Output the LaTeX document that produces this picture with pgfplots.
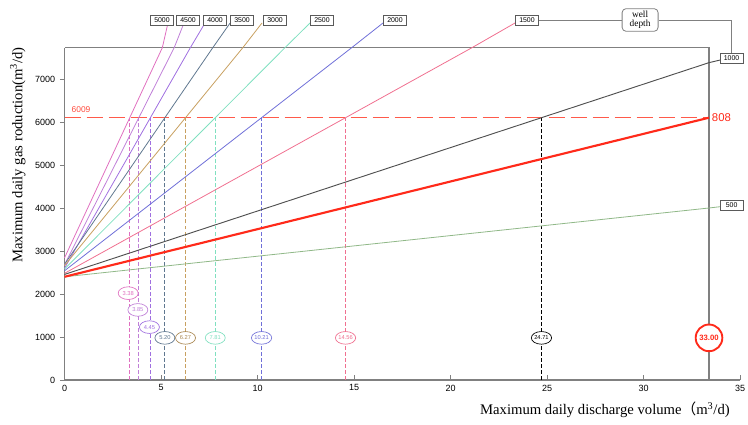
\documentclass[border=0pt]{standalone}
\usepackage{pgfplots}
\pgfplotsset{compat=1.18}
\usepackage{fontspec}
\setmainfont{Liberation Serif}
\setsansfont{Liberation Sans}
\newfontfamily\cjk{Noto Sans CJK SC}
\usetikzlibrary{shapes.geometric}
\definecolor{cA}{HTML}{E070C0}% 5000
\definecolor{cB}{HTML}{C080D8}% 4500
\definecolor{cC}{HTML}{A070E0}% 4000
\definecolor{cD}{HTML}{607890}% 3500
\definecolor{cE}{HTML}{C8A060}% 3000
\definecolor{cF}{HTML}{80E0C0}% 2500
\definecolor{cG}{HTML}{7070D8}% 2000
\definecolor{cH}{HTML}{F07090}% 1500
\definecolor{cI}{HTML}{505050}% 1000
\definecolor{cJ}{HTML}{FF2A1A}% 808
\definecolor{cK}{HTML}{90B888}% 500
\definecolor{cJd}{HTML}{FF5A4A}
\definecolor{frame}{HTML}{808080}
\tikzset{
  depthlab/.style={draw=frame!70!black, fill=white, line width=0.5pt, inner sep=0.5pt,
    minimum width=17pt, minimum height=7.5pt, font=\sffamily\fontsize{5.2}{5.2}\selectfont},
  vlab/.style={ellipse, draw=#1, text=#1, fill=white, line width=0.5pt, inner sep=0pt,
    minimum width=15pt, minimum height=9.5pt, font=\sffamily\fontsize{4.3}{4.3}\selectfont},
}
% dashed vertical drawn as short solid pieces
\newcommand\vdl[2]{\pgfplotsinvokeforeach{0,...,43}{\draw[#2, line width=0.7pt] (axis cs:#1,{##1*140}) -- (axis cs:#1,{min(##1*140+93,6100)});}}
\begin{document}
\begin{tikzpicture}
\begin{axis}[
  scale only axis, width=506.6pt, height=249.2pt,
  xmin=0, xmax=35, ymin=0, ymax=7728,
  axis lines=left, axis line style={-, draw=frame, line width=0.9pt},
  clip=false,
  xtick={0,5,...,35}, ytick={0,1000,...,7000},
  xtick align=inside, ytick align=outside,
  tick style={frame, line width=0.6pt},
  major tick length=3.5pt,
  tick label style={font=\sffamily\fontsize{6.75}{7}\selectfont},
  /pgf/number format/assume math mode=true,
  /pgf/number format/1000 sep={},
  xlabel={Maximum daily discharge volume{\cjk （}m\textsuperscript{3}/d)},
  ylabel={Maximum daily gas roduction(m\textsuperscript{3}/d)},
  xlabel style={at={(axis description cs:0.8,0)}, anchor=center, yshift=-22.5pt, font=\fontsize{11}{12}\selectfont},
  ylabel style={at={(axis description cs:0,0.677)}, anchor=center, yshift=35pt, font=\fontsize{11}{12}\selectfont},
]
% frame top and right
\addplot[color=frame, line width=0.9pt] coordinates {(0,7728) (33.39,7728) (33.39,0)};
% horizontal red dashed line (pieces)
\pgfplotsinvokeforeach{0,...,29}{\draw[cJd, line width=0.9pt] (axis cs:{#1*1.14},6100) -- (axis cs:{min(#1*1.14+0.83,33.39)},6100);}
% vertical dashed lines
\vdl{3.38}{cA}
\vdl{3.85}{cB}
\vdl{4.45}{cC}
\vdl{5.20}{cD}
\vdl{6.27}{cE}
\vdl{7.81}{cF}
\vdl{10.21}{cG}
\vdl{14.56}{cH}
\vdl{24.71}{black}
% well-depth lines
\addplot[color=cA, line width=0.6pt] coordinates {(0,2840) (5.068,7728) (5.36,8302)};
\addplot[color=cB, line width=0.6pt] coordinates {(0,2680) (5.683,7728) (6.19,8302)};
\addplot[color=cC, line width=0.6pt] coordinates {(0,2600) (6.520,7728) (7.28,8302)};
\addplot[color=cD, line width=0.6pt] coordinates {(0,2690) (7.682,7728) (8.58,8302)};
\addplot[color=cE, line width=0.6pt] coordinates {(0,2660) (9.238,7728) (10.23,8302)};
\addplot[color=cF, line width=0.6pt] coordinates {(0,2580) (11.422,7728) (12.72,8302)};
\addplot[color=cG, line width=0.6pt] coordinates {(0,2540) (14.878,7728) (16.50,8302)};
\addplot[color=cH, line width=0.6pt] coordinates {(0,2480) (21.110,7728) (23.34,8302)};
\addplot[color=cI, line width=0.7pt] coordinates {(0,2455) (33.39,7380) (33.96,7440)};
\addplot[color=cK, line width=0.6pt] coordinates {(0,2400) (33.39,4000) (33.96,4030)};
\addplot[color=cJ, line width=1.6pt] coordinates {(0,2400) (33.39,6100)};
% top labels
\node[depthlab] at (axis cs:5.05,8372) {5000};
\node[depthlab] at (axis cs:6.40,8372) {4500};
\node[depthlab] at (axis cs:7.80,8372) {4000};
\node[depthlab] at (axis cs:9.20,8372) {3500};
\node[depthlab] at (axis cs:10.91,8372) {3000};
\node[depthlab] at (axis cs:13.34,8372) {2500};
\node[depthlab] at (axis cs:17.12,8372) {2000};
\node[depthlab] (l1500) at (axis cs:23.96,8372) {1500};
\node[depthlab] (l1000) at (axis cs:34.56,7488) {1000};
\node[depthlab] at (axis cs:34.56,4070) {500};
\node[draw=frame, rounded corners=3pt, fill=white, line width=0.6pt, align=center, inner sep=1pt,
  minimum width=27pt, minimum height=17pt, font=\fontsize{7}{7}\selectfont] (well) at (axis cs:29.82,8372) {well\\depth};
\draw[frame, line width=0.6pt] (l1500.east) -- (well.west);
\draw[frame, line width=0.6pt] (well.east) -- (axis cs:34.56,8372) -- (l1000.north);
% value labels
\node[anchor=west, inner sep=0pt, text=cJ, font=\sffamily\fontsize{8.5}{9}\selectfont] at (axis cs:33.53,6100) {808};
\node[text=cJ!85, inner sep=0pt, font=\sffamily\fontsize{6.3}{7}\selectfont] at (axis cs:0.855,6290) {6009};
\node[vlab=cA] at (axis cs:3.30,2020) {3.38};
\node[vlab=cB] at (axis cs:3.80,1630) {3.85};
\node[vlab=cC] at (axis cs:4.40,1230) {4.45};
\node[vlab=cD] at (axis cs:5.20,980) {5.20};
\node[vlab=cE!85!black] at (axis cs:6.27,980) {6.27};
\node[vlab=cF] at (axis cs:7.81,980) {7.81};
\node[vlab=cG] at (axis cs:10.21,980) {10.21};
\node[vlab=cH] at (axis cs:14.56,980) {14.56};
\node[vlab=black] at (axis cs:24.71,980) {24.71};
\node[circle, draw=cJ, text=cJ, fill=white, line width=1.4pt, inner sep=0pt, minimum size=20pt,
  font=\sffamily\bfseries\fontsize{5.8}{6}\selectfont] at (axis cs:33.39,980) {33.00};
% bounding box
\coordinate (bbA) at (axis cs:-3.342,-1023);
\coordinate (bbB) at (axis cs:35.41,8837);
\end{axis}
\pgfresetboundingbox
\path (bbA) rectangle (bbB);
\end{tikzpicture}
\end{document}
